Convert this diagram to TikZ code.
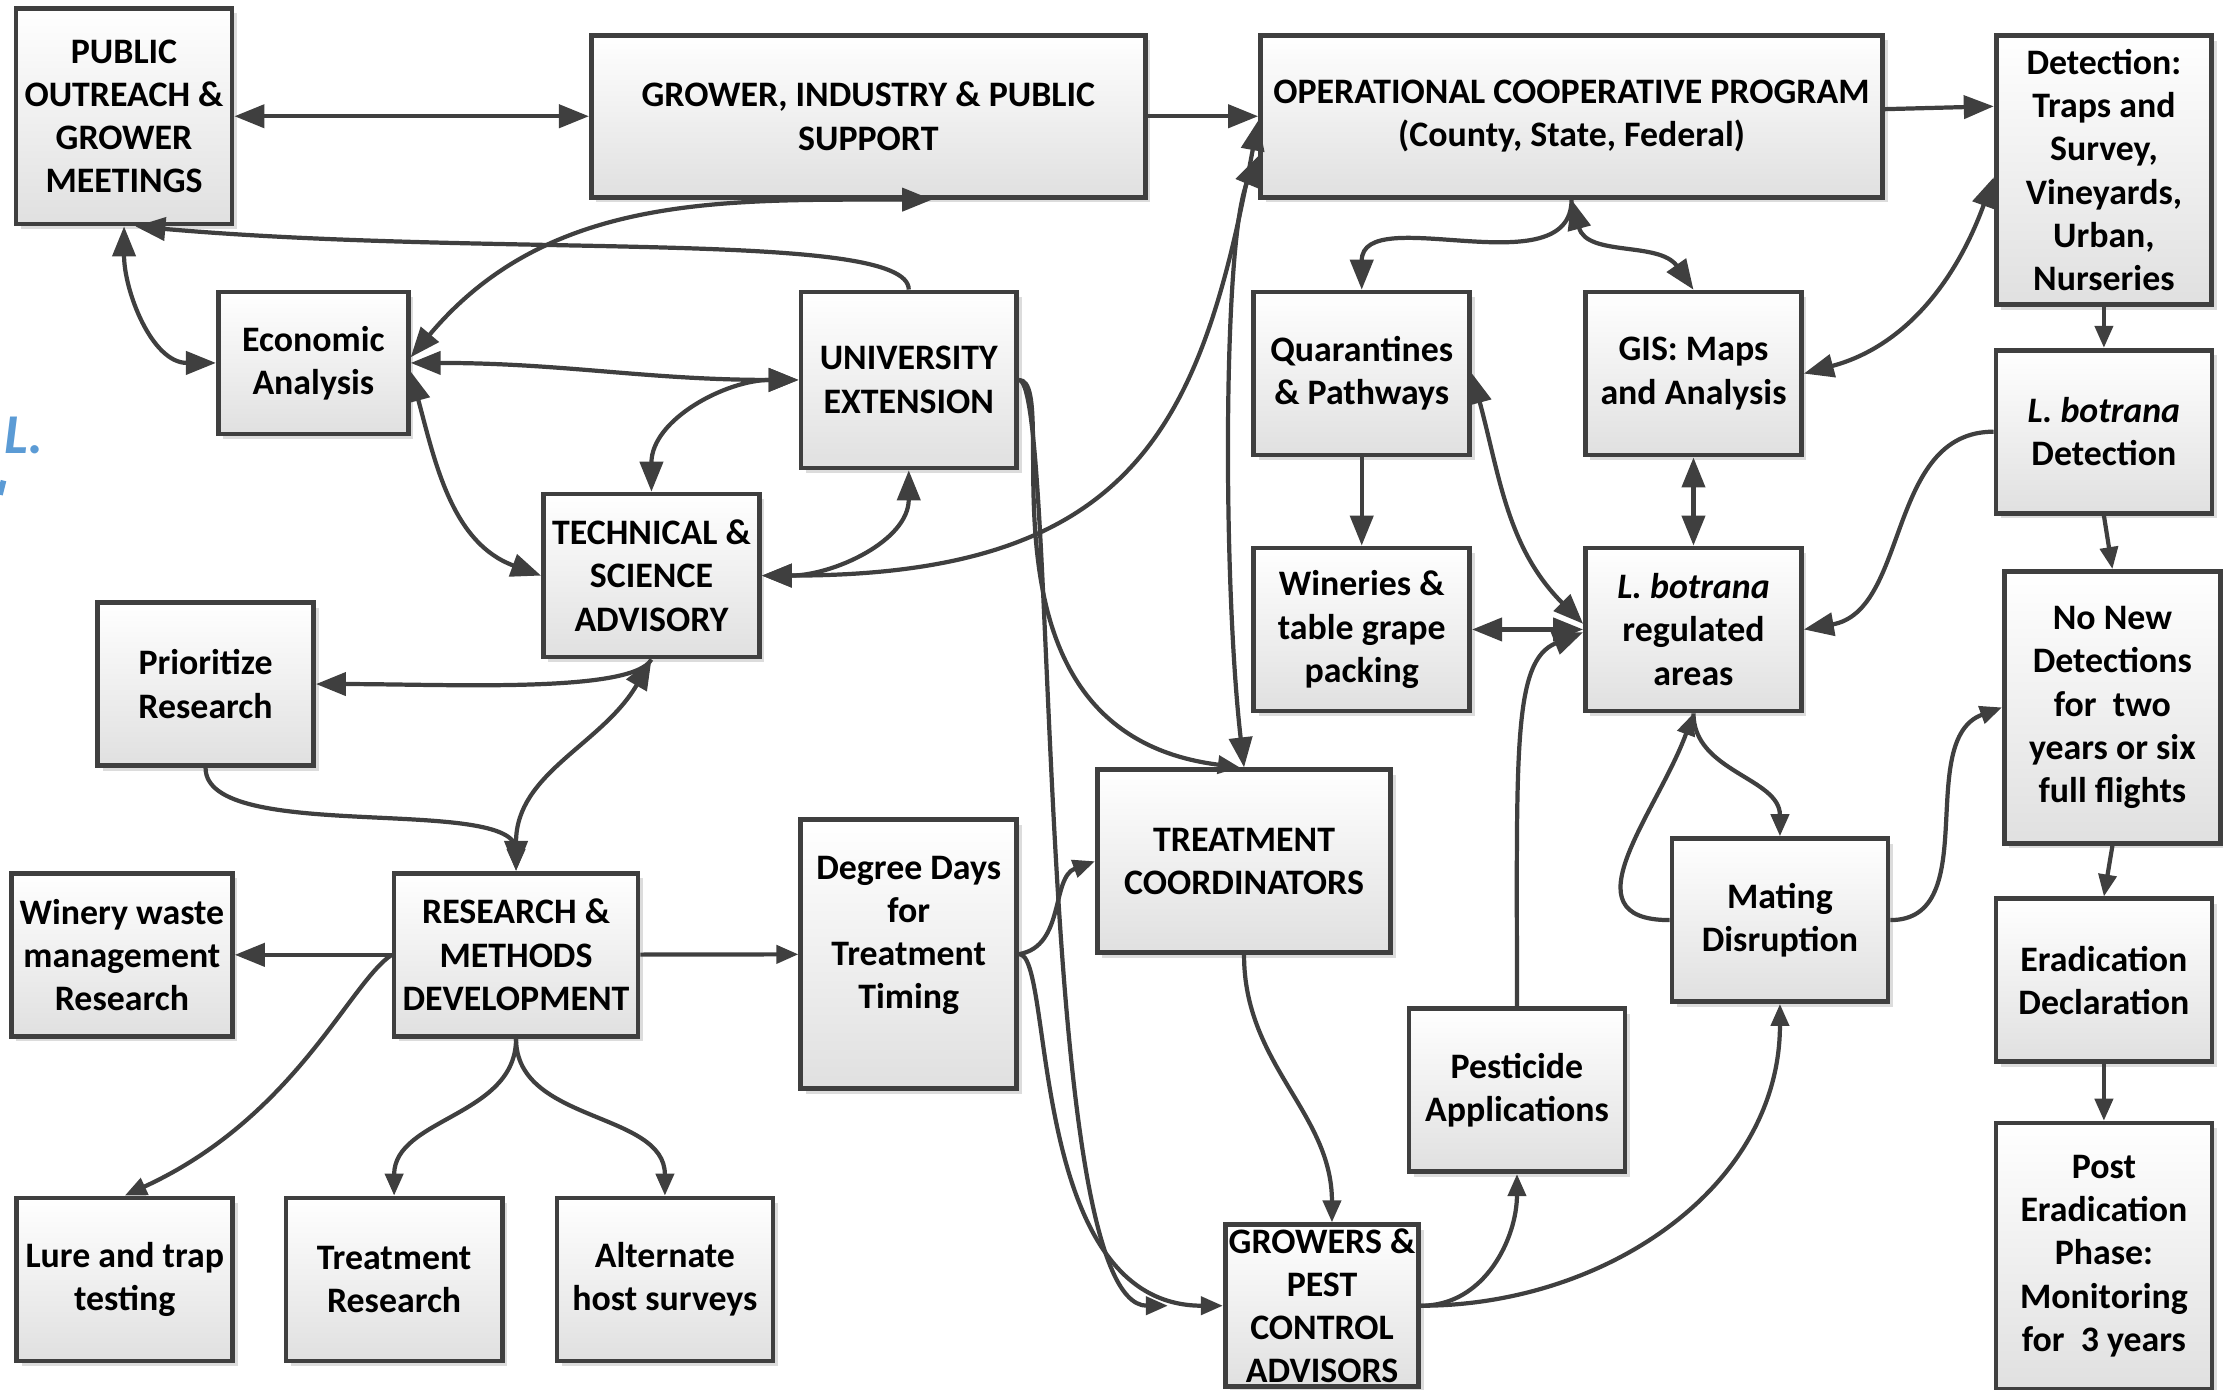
\documentclass[tikz,border=0pt]{standalone}
\usepackage{fontspec}
\setmainfont{Carlito}
\usetikzlibrary{arrows.meta,calc,shadows}

\definecolor{edgegray}{HTML}{3F3F3F}
\definecolor{fillgray}{HTML}{E0E0E0}
\definecolor{titleblue}{HTML}{5B9BD5}

\tikzset{
  stage/.style={draw=edgegray, line width=1.35pt, top color=white, bottom color=fillgray,
    align=center, inner sep=1pt, minimum width=21.6mm, minimum height=16.3mm,
    font=\bfseries\fontsize{10.2}{12.3}\selectfont,
    drop shadow={shadow xshift=0.5mm, shadow yshift=-0.5mm, fill=black!30, opacity=0.45}},
  link/.style={draw=edgegray, line width=1.2pt},
  thinhead/.style={>={Triangle[length=2.2mm,width=1.8mm]}},
}

\begin{document}
\begin{tikzpicture}[x=0.14177mm, y=0.14177mm, >={Triangle[length=3mm,width=2.3mm]}]
\useasboundingbox (0,0) rectangle (1568,-980);

% cut-off title on the left
\node[text=titleblue, font=\bfseries\itshape\fontsize{16}{18}\selectfont, anchor=base west, inner sep=0pt] (cut) at (3,-320) {L.};
\draw[titleblue, line width=1.6pt] (0,-349) -- (2.5,-339);

% top row
\node[stage, minimum height=21.55mm] (pub) at (87.5,-82) {PUBLIC\\OUTREACH \&\\GROWER\\MEETINGS};
\node[stage, minimum width=55.4mm, minimum height=16.2mm] (grow) at (612.5,-82) {GROWER, INDUSTRY \& PUBLIC\\SUPPORT};
\node[stage, minimum width=62.2mm, minimum height=16.2mm] (ocp) at (1108.5,-82) {OPERATIONAL COOPERATIVE PROGRAM\\(County, State, Federal)};
\node[stage, minimum width=21.55mm, minimum height=26.9mm] (det) at (1484,-120) {Detection:\\Traps and\\Survey,\\Vineyards,\\Urban,\\Nurseries};

% second row
\node[stage, minimum width=19mm, minimum height=14.2mm] (eco) at (221,-256) {Economic\\Analysis};
\node[stage, minimum width=21.55mm, minimum height=17.6mm] (uni) at (641,-268) {UNIVERSITY\\EXTENSION};
\node[stage] (qua) at (960.5,-263.5) {Quarantines\\\& Pathways};
\node[stage] (gis) at (1194.5,-263.5) {GIS: Maps\\and Analysis};
\node[stage] (lbd) at (1484,-304.5) {\textit{L. botrana}\\Detection};

% middle
\node[stage] (tech) at (459.5,-406) {TECHNICAL \&\\SCIENCE\\ADVISORY};
\node[stage] (win) at (960.5,-444) {Wineries \&\\table grape\\packing};
\node[stage] (lbr) at (1194.5,-444) {\textit{L. botrana}\\regulated\\areas};
\node[stage] (pri) at (145,-482.5) {Prioritize\\Research};
\node[stage, minimum height=27.2mm] (nnd) at (1490,-499) {No New\\Detections\\for\ \ two\\years or six\\full flights};
\node[stage, minimum width=29.35mm, minimum height=18.3mm] (tc) at (877.5,-607.5) {TREATMENT\\COORDINATORS};
\node[stage] (md) at (1255.5,-649) {Mating\\Disruption};
\node[stage, minimum width=24.4mm] (rm) at (364,-673.5) {RESEARCH \&\\METHODS\\DEVELOPMENT};
\node[stage, minimum width=22.1mm] (ww) at (86,-673.5) {Winery waste\\management\\Research};
\node[stage, minimum height=26.9mm] (dd) at (641,-673) {Degree Days\\for\\Treatment\\Timing\\\mbox{}};
\node[stage] (ec) at (1484,-691.5) {Eradication\\Declaration};
\node[stage] (pes) at (1070,-769) {Pesticide\\Applications};

% bottom row
\node[stage, minimum width=18mm, minimum height=16.2mm, inner ysep=0pt] (gpc) at (932.5,-921) {GROWERS \&\\PEST\\CONTROL\\ADVISORS};
\node[stage, minimum height=26.6mm] (post) at (1484,-886) {Post\\Eradication\\Phase:\\Monitoring\\for\ \ 3 years};
\node[stage] (lure) at (88,-902.5) {Lure and trap\\testing};
\node[stage] (tr) at (278,-902.5) {Treatment\\Research};
\node[stage] (alt) at (469,-902.5) {Alternate\\host surveys};

% support and program
\draw[link,<->] (pub) -- (grow);
\draw[link,->] (grow) -- (ocp);
\draw[link,->] ($(ocp.east)+(0,5)$) -- ($(det.west)+(0,45)$);
\draw[link,->] (ocp.south) to[out=-90,in=90] (qua.north);
\draw[link,<->] (ocp.south) to[out=-75,in=125] (gis.north);
\draw[link,<->] ($(det.west)+(0,-5)$) to[out=250,in=15] (gis.east);

% detection column
\draw[link,thinhead,->] (det) -- (lbd);
\draw[link,thinhead,->] (lbd.south) -- (nnd.north);
\draw[link,thinhead,->] (nnd.south) -- (ec.north);
\draw[link,thinhead,->] (ec) -- (post);
\draw[link,->] (lbd.west) to[out=180,in=10] (lbr.east);

% regulated areas
\draw[link,<->] (gis) -- (lbr);
\draw[link,->] (qua) -- (win);
\draw[link,<->] (win) -- (lbr);
\draw[link,<->] (qua.east) to[out=-75,in=135] ($(lbr.west)+(0,4)$);
\draw[link,->] (pes.north) .. controls +(0,180) and +(-50,-20) .. ($(lbr.west)+(0,-2)$);
\draw[link,thinhead,->] (lbr.south) to[out=-90,in=90] (md.north);
\draw[link,thinhead,->] (md.west) to[out=180,in=-110,looseness=1.3] (lbr.south);
\draw[link,thinhead,->] (md.east) to[out=0,in=200] (nnd.west);

% growers
\draw[link,thinhead,->] (gpc.east) to[out=0,in=-90] (pes.south);
\draw[link,thinhead,->] (gpc.east) to[out=0,in=-90] (md.south);
\draw[link,thinhead,->] (tc.south) to[out=-90,in=90] ($(gpc.north)+(7,0)$);

% treatment coordinators
\draw[link,<->] (tc.north) .. controls +(-15,130) and +(-25,-60) .. ($(ocp.west)+(0,-28)$);
\draw[link,thinhead,->] (uni.east) .. controls +(33,0) and +(-200,25) .. ($(tc.north)+(-3,0)$);
\draw[link,thinhead,->, shorten >=5.5mm] (uni.east) .. controls +(28,0) and +(-134,0) .. (gpc.west);
\draw[link,thinhead,->] (dd.east) .. controls +(25,0) and +(-139,0) .. (gpc.west);
\draw[link,thinhead,->] (dd.east) to[out=10,in=200] (tc.west);

% advisory links
\draw[link,<->] (tech.east) .. controls +(264,0) and +(-40,-215) .. ($(ocp.west)+(0,-3)$);
\draw[link,<->] (tech.east) to[out=0,in=-90] (uni.south);
\draw[link,<->] (tech.north) to[out=90,in=180] (uni.west);
\draw[link,<->] (eco.east) to[out=0,in=180] (uni.west);
\draw[link,<->] ($(eco.east)+(0,4)$) to[out=50,in=180] ($(grow.south)+(45,0)$);
\draw[link,<->] ($(eco.east)+(0,-6)$) to[out=-75,in=160] (tech.west);
\draw[link,<->] (pub.south) to[out=-90,in=180] (eco.west);
\draw[link,->] (uni.north) to[out=90,in=-5,out looseness=0.2,in looseness=1.2] ($(pub.south)+(8,0)$);

% research
\draw[link,->] (tech.south) to[out=-120,in=0,out looseness=0.3] (pri.east);
\draw[link,<->] (rm.north) to[out=90,in=-120] (tech.south);
\draw[link,thinhead,->] (pri.south) to[out=-90,in=90,looseness=0.6] (rm.north);
\draw[link,->] (rm) -- (ww);
\draw[link,thinhead,->] (rm) -- (dd);
\draw[link,thinhead,->] (rm.west) .. controls +(-30,-20) and +(120,55) .. (lure.north);
\draw[link,thinhead,->] (rm.south) to[out=-90,in=90] (tr.north);
\draw[link,thinhead,->] (rm.south) to[out=-90,in=90] (alt.north);

\end{tikzpicture}
\end{document}
